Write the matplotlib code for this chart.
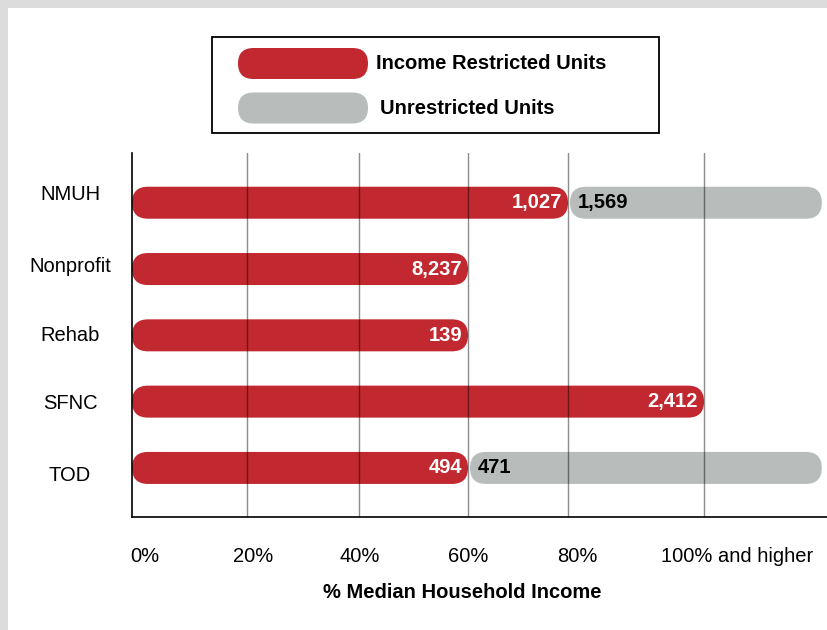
import numpy as np
import matplotlib.pyplot as plt
from matplotlib.patches import FancyBboxPatch, Rectangle
from matplotlib.transforms import ScaledTranslation, blended_transform_factory

plt.rcParams['font.family'] = ['Liberation Sans', 'DejaVu Sans']

categories = ['NMUH', 'Nonprofit', 'Rehab', 'SFNC', 'TOD']
restricted_max = [80, 60, 60, 100, 60]          # % MHI ceiling of the restricted units
restricted_units = [1027, 8237, 139, 2412, 494]
unrestricted_units = [1569, None, None, None, 471]
open_end = 119                                   # "100% and higher" runs to the edge

tick_vals = [0, 20, 40, 60, 80, 100]
tick_labels = ['0%', '20%', '40%', '60%', '80%', '100% and higher']

RED = '#c1282f'
GREY = '#b8bdbc'
FS = 14.5

# the original axis is unevenly spaced, so map % onto its grid
scale_pct = [-1000, 0, 20, 40, 60, 80, 100, 1000]
scale_pos = [-5750, 0, 115, 227, 336, 436, 572, 6152]

def fwd(v):
    return np.interp(v, scale_pct, scale_pos)

def inv(v):
    return np.interp(v, scale_pos, scale_pct)

W, H = 828, 630
fig = plt.figure(figsize=(W / 100, H / 100), dpi=100)
fig.patch.set_facecolor('#dcdcdc')
fig.add_artist(Rectangle((8 / W, 0), 1, 1 - 8 / H, transform=fig.transFigure,
                         fc='white', ec='none', zorder=-10))

ax = fig.add_axes([132 / W, (H - 517) / H, (W - 132) / W, 364 / H])
ax.set_facecolor('none')
ax.set_xscale('function', functions=(fwd, inv))
ax.set_xlim(0, 120)
ax.set_ylim(len(categories) - 1 + 0.74, -0.75)

for s in ['top', 'right']:
    ax.spines[s].set_visible(False)
for s in ['left', 'bottom']:
    ax.spines[s].set_linewidth(1.2)
    ax.spines[s].set_zorder(4)
ax.set_xticks([])
ax.set_yticks([])

for v in tick_vals[1:]:
    ax.axvline(v, color='black', alpha=0.45, lw=1.0, zorder=3)

BAR_H = 32  # px


def pill(x0, x1, y, color, gap=0.0, h=BAR_H):
    (a, yc), (b, _) = ax.transData.transform([(x0, y), (x1, y)])
    p = FancyBboxPatch((a + gap, yc - h / 2), b - a - gap, h,
                       boxstyle=f'round,pad=0,rounding_size={h / 2}',
                       fc=color, ec='none', transform=None, zorder=2, clip_on=False)
    ax.add_patch(p)


def px(dx, dy=0):
    return ScaledTranslation(dx / 100, dy / 100, fig.dpi_scale_trans)


for i, cat in enumerate(categories):
    end = restricted_max[i]
    pill(0, end, i, RED)
    ax.text(end, i, f'{restricted_units[i]:,}', transform=ax.transData + px(-6),
            ha='right', va='center', color='white', fontsize=FS, fontweight='bold', zorder=5)
    if unrestricted_units[i]:
        pill(end, open_end, i, GREY, gap=2)
        ax.text(end, i, f'{unrestricted_units[i]:,}', transform=ax.transData + px(10),
                ha='left', va='center', color='black', fontsize=FS, fontweight='bold', zorder=5)

# category labels, centred in the left margin and spread a bit wider than the bars
label_nudge = [8, 3, 0, -2, -8]
ytr = blended_transform_factory(fig.transFigure, ax.transData)
for i, cat in enumerate(categories):
    ax.text(70 / W, i, cat, transform=ytr + px(0, label_nudge[i]),
            ha='center', va='center', fontsize=FS)

# x tick labels sit a little off the grid lines in the original
label_shift = [13, 6, 1, 0, 9, 33]
xtr = blended_transform_factory(ax.transData, ax.transAxes)
for v, lab, dx in zip(tick_vals, tick_labels, label_shift):
    ax.text(v, 0, lab, transform=xtr + px(dx, -40), ha='center', va='center',
            fontsize=FS, clip_on=False)
ax.text(0.475, 0, '% Median Household Income', transform=ax.transAxes + px(0, -76),
        ha='center', va='center', fontsize=FS, fontweight='bold')

# legend box
fig.add_artist(Rectangle((212, H - 133), 447, 96, transform=None,
                         fc='white', ec='black', lw=1.3))
for yc, col, txt, tx in [(63.5, RED, 'Income Restricted Units', 376),
                         (108, GREY, 'Unrestricted Units', 380)]:
    fig.add_artist(FancyBboxPatch((238, H - yc - 15.5), 130, 31,
                                  boxstyle='round,pad=0,rounding_size=15.5',
                                  fc=col, ec='none', transform=None))
    fig.text(tx / W, 1 - yc / H, txt, ha='left', va='center',
             fontsize=FS, fontweight='bold')

fig.savefig('out.png', dpi=100)
